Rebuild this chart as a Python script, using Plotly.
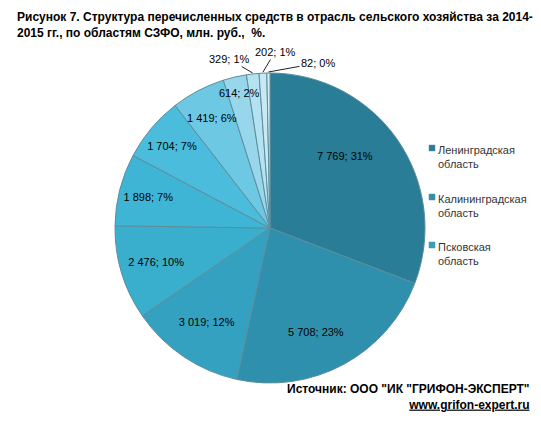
import math
import plotly.graph_objects as go

W, H = 541, 421

regions = ["Ленинградская область", "Калининградская область", "Псковская область",
           "Вологодская область", "Новгородская область", "Республика Карелия",
           "Архангельская область", "Республика Коми", "Мурманская область",
           "г. Санкт-Петербург", "Ненецкий АО"]
values = [7769, 5708, 3019, 2476, 1898, 1704, 1419, 614, 329, 202, 82]
percent_labels = [31, 23, 12, 10, 7, 7, 6, 2, 1, 1, 0]
legend_labels = ["Ленинградская<br>область", "Калининградская<br>область", "Псковская<br>область"]

colors = ['#2a7d96', '#2e90ac', '#35a1c0', '#3aaecd', '#3fb5d5', '#4bbcdb',
          '#6cc8e3', '#98d7eb', '#b5e2f0', '#c8e9f4', '#d9eff7']

def fmt(v):
    return f"{v:,}".replace(",", " ")

texts = [f"{fmt(v)}; {p}%" for v, p in zip(values, percent_labels)]

# text placement (pixels) for labels placed as annotations; others use the pie's own inside text
label_pos = {0: (345, 156, False), 1: (316, 340, False), 6: (212, 110, False),
             7: (239, 85, False), 8: (229, 59, True), 9: (275, 52, True), 10: (318, 63, True)}
positions = ["none" if i in label_pos else "inside" for i in range(len(values))]

cx, cy, r = 270, 228, 155
FONT = dict(family="Liberation Sans", size=11, color="#000")

fig = go.Figure(go.Pie(
    labels=regions, values=values, text=texts, textinfo="text",
    textposition=positions, insidetextorientation="horizontal",
    sort=False, direction="clockwise", rotation=0,
    marker=dict(colors=colors, line=dict(color="#5d8d9c", width=1)),
    textfont=FONT, insidetextfont=FONT,
    showlegend=False, hoverinfo="label+value+percent",
    domain=dict(x=[(cx - r) / W, (cx + r) / W], y=[1 - (cy + r) / H, 1 - (cy - r) / H]),
))

ann = [
    dict(x=15 / W, y=1 - 8 / H, xref="paper", yref="paper", xanchor="left", yanchor="top",
         align="left", showarrow=False,
         text="<b>Рисунок 7. Структура перечисленных средств в отрасль сельского хозяйства за 2014-<br>2015 гг., по областям СЗФО, млн. руб.,  %.</b>",
         font=dict(family="Liberation Sans", size=12, color="#000")),
    dict(x=532 / W, y=1 - 380 / H, xref="paper", yref="paper", xanchor="right", yanchor="top",
         align="right", showarrow=False,
         text="<b>Источник: ООО \"ИК \"ГРИФОН-ЭКСПЕРТ\"</b><br><b><u>www.grifon-expert.ru</u></b>",
         font=dict(family="Liberation Sans", size=12, color="#000")),
]

total = sum(values)
cum = 0
for i, v in enumerate(values):
    mid = (cum + v / 2) / total * 2 * math.pi
    cum += v
    if i not in label_pos:
        continue
    tx, ty, arrow = label_pos[i]
    if arrow:
        ex = cx + (r + 1) * math.sin(mid)
        ey = cy - (r + 1) * math.cos(mid)
        ann.append(dict(x=ex / W, y=1 - ey / H, xref="paper", yref="paper",
                        ax=tx - ex, ay=ty - ey, showarrow=True, arrowhead=0,
                        arrowwidth=1, arrowcolor="#222", text=texts[i], font=FONT))
    else:
        ann.append(dict(x=tx / W, y=1 - ty / H, xref="paper", yref="paper",
                        showarrow=False, text=texts[i], font=FONT))

shapes = []
leg_y = [148, 197, 245]
for i, (lab, yy) in enumerate(zip(legend_labels, leg_y)):
    ann.append(dict(x=436 / W, y=1 - (yy - 6) / H, xref="paper", yref="paper",
                    xanchor="left", yanchor="top", align="left", showarrow=False,
                    text=lab, font=dict(family="Liberation Sans", size=11, color="#333")))
    shapes.append(dict(type="rect", xref="paper", yref="paper",
                       x0=429 / W, x1=435 / W, y0=1 - (yy + 3) / H, y1=1 - (yy - 3) / H,
                       fillcolor=colors[i], line=dict(color="#5d8d9c", width=0.5)))

fig.update_layout(width=W, height=H, margin=dict(l=0, r=0, t=0, b=0),
                  paper_bgcolor="white", plot_bgcolor="white",
                  annotations=ann, shapes=shapes, separators=", ")

fig.write_html("out.html")
